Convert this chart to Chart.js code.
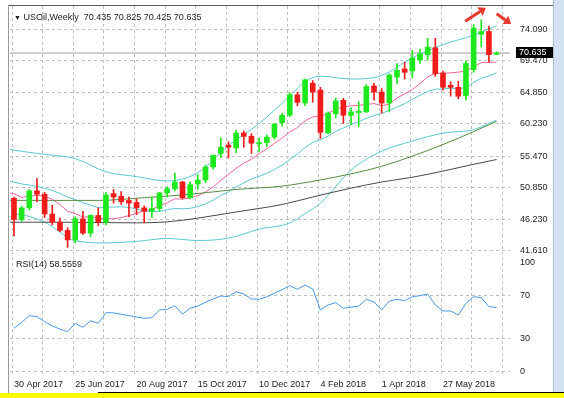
<!DOCTYPE html>
<html>
<head>
<meta charset="utf-8">
<script src="https://cdn.jsdelivr.net/npm/chart.js@4.4.1/dist/chart.umd.min.js"></script>
<style>
  body { margin: 0; background: #fff; }
  #box { position: relative; width: 564px; height: 398px; overflow: hidden; background: #fff; }
  #box canvas { position: absolute; left: 0; }
  #main { top: 0; }
  #rsi { top: 250px; }
  .txt { position: absolute; font: 9px "Liberation Sans", Arial, sans-serif; color: #222; white-space: pre; }
  .ln { position: absolute; }
</style>
</head>
<body>
<div id="box">
  <canvas id="main" width="564" height="260"></canvas>
  <canvas id="rsi" width="564" height="142"></canvas>
  <div class="txt" style="left:14px;top:12px"><span style="font-size:7px">▼</span> USOil,Weekly  70.435 70.825 70.425 70.635</div>
  <div class="txt" style="left:16px;top:259px">RSI(14) 58.5559</div>
  <div class="ln" style="left:8px;top:5px;width:546px;height:1px;background:#5a5a5a"></div>
  <div class="ln" style="left:8px;top:5px;width:1px;height:388px;background:#9a9a9a"></div>
  <div class="ln" style="left:553px;top:0;width:11px;height:392px;background:#d3e2f2"></div>
  <div class="ln" style="left:553px;top:0;width:1px;height:392px;background:#a9bfd6"></div>
  <div class="ln" style="left:98px;top:392px;width:466px;height:1px;background:#000"></div>
  <div class="ln" style="left:0;top:393px;width:564px;height:5px;background:#ffff00"></div>
</div>
<script>
// weekly candles, bar 0 = week of 30 Apr 2017
const open  = [49.3,46.2,47.9,50.4,49.9,47.0,45.8,44.6,43.2,46.3,44.2,46.8,45.8,50.0,49.6,49.0,48.7,47.9,47.4,47.8,
               50.1,50.7,51.7,49.4,51.4,52.0,53.9,55.9,57.1,56.7,58.9,58.4,57.3,57.5,58.3,60.4,61.5,64.5,63.3,66.2,
               65.2,58.9,61.7,63.7,61.5,61.9,62.0,65.8,64.9,63.3,67.1,68.3,68.0,69.6,70.4,71.4,67.7,65.9,65.6,64.4,
               68.2,73.4,73.8,70.435];
const high  = [49.5,48.1,50.6,52.2,50.2,48.3,46.4,45.0,46.6,47.4,46.9,47.9,50.2,50.6,50.3,49.5,49.2,48.2,49.5,50.2,
               51.0,53.0,51.8,51.7,52.8,54.2,55.7,58.2,57.6,59.3,59.2,58.8,58.2,58.6,60.3,61.8,64.8,64.9,66.8,66.6,
               65.6,62.0,64.0,64.0,62.6,63.5,66.0,66.2,65.4,67.6,69.1,69.3,71.0,71.2,72.8,72.8,68.0,66.4,66.5,69.5,
               74.8,75.5,74.6,70.825];
const low   = [43.8,45.9,47.6,48.8,46.5,45.4,44.4,42.1,42.8,44.0,43.7,45.3,45.4,48.6,48.4,46.6,46.9,45.7,46.5,47.4,
               49.5,50.4,49.2,49.2,50.6,51.6,53.6,55.3,55.2,56.0,56.8,55.9,56.1,56.9,58.0,59.9,61.3,62.9,62.9,63.4,
               58.1,58.8,61.1,60.3,60.1,59.8,61.9,63.7,61.8,62.0,66.1,66.8,67.0,69.1,69.6,67.2,65.2,64.3,63.9,63.7,
               67.8,71.5,69.3,70.425];
const close = [46.2,47.9,50.4,49.9,47.0,45.8,44.6,43.2,46.3,44.2,46.8,45.8,49.8,49.5,48.8,48.6,47.9,47.4,47.8,50.1,
               50.7,51.7,49.4,51.3,52.0,53.9,55.6,56.8,56.8,58.9,58.4,57.4,57.5,58.3,60.2,61.5,64.5,63.4,66.7,64.9,
               59.0,61.8,63.6,61.5,62.0,62.1,65.7,64.9,63.3,67.4,68.1,67.8,69.9,70.5,71.5,67.6,65.6,65.6,64.3,69.1,
               74.3,73.8,70.4,70.635];
const lastPrice = 70.635;

// Bollinger middle (20) and pink average (10), one value per bar
const bbMid = [51.68,51.42,51.26,51.05,50.78,50.45,50.02,49.49,49.11,48.65,48.29,47.92,47.98,48.02,48.06,47.96,47.74,47.45,47.36,47.40,
               47.63,47.82,47.77,47.84,48.09,48.49,49.04,49.72,50.25,50.98,51.56,52.14,52.53,52.97,53.54,54.18,55.01,55.81,56.76,57.50,
               57.91,58.42,59.13,59.64,60.14,60.55,61.05,61.46,61.78,62.21,62.69,63.21,63.83,64.44,65.01,65.31,65.37,65.48,65.36,65.57,
               66.33,66.93,67.27,67.73];
const sma10 = [49.97,49.43,49.62,49.73,49.63,49.15,48.39,47.39,47.06,46.55,46.61,46.40,46.34,46.30,46.48,46.76,47.09,47.51,47.66,48.25,
               48.64,49.23,49.19,49.37,49.69,50.22,50.99,51.93,52.83,53.71,54.48,55.05,55.86,56.56,57.38,58.14,59.03,59.69,60.68,61.28,
               61.34,61.78,62.39,62.71,62.89,62.95,63.07,63.22,62.88,63.13,64.04,64.64,65.27,66.17,67.12,67.67,67.66,67.73,67.83,68.00,
               68.62,69.22,69.27,69.28];
const edgeBar = -0.52;
const bbMidEdge = 51.8, sma10Edge = 50.1;

// outer bands, read every few bars
const bandBars = [-0.52, 0, 4, 8, 12, 16, 20, 24, 28, 32, 36, 38, 40, 44, 48, 52, 56, 60, 63];
const bbUpper  = [56.5, 56.38, 55.76, 55.13, 53.2, 52.5, 51.85, 53.07, 57.05, 60.29, 64.33, 66.46, 67.23, 66.82, 67.34, 69.95, 71.87, 73.27, 74.67];
const bbLower  = [46.6, 46.98, 45.8, 43.09, 42.76, 42.98, 43.41, 43.11, 43.45, 44.77, 45.69, 47.06, 48.59, 53.46, 56.22, 57.71, 58.87, 59.39, 60.79];

const sma50Bars  = [-0.52, 5, 11, 17, 23, 29, 35, 40, 44, 48, 52, 56, 60, 63];
const sma50      = [49.0, 49.0, 49.0, 49.4, 49.9, 50.6, 51.1, 52.0, 52.9, 54.0, 55.5, 57.2, 59.1, 60.6];
const sma100Bars = [-0.52, 6, 11, 16, 20, 24, 29, 35, 39, 44, 48, 52, 56, 60, 63];
const sma100     = [45.8, 45.8, 45.75, 45.7, 45.85, 46.4, 47.3, 48.4, 49.5, 50.8, 51.7, 52.4, 53.3, 54.3, 55.0];

const rsi = [39.7,45.0,51.2,50.3,45.7,41.8,39.0,36.6,44.2,40.6,46.6,44.2,54.0,53.8,52.5,51.3,50.0,48.8,49.4,56.4,
             57.0,60.3,52.7,58.0,60.0,63.5,66.5,69.2,68.6,73.1,71.0,66.5,66.2,68.5,71.7,75.0,78.6,75.3,79.2,75.6,
             56.4,61.0,63.1,58.0,59.0,60.0,66.2,63.8,56.4,64.6,66.2,64.9,68.6,69.5,71.0,61.0,55.5,55.5,51.8,62.5,
             68.6,67.7,59.5,58.56];

const priceTicks = [74.09, 69.47, 64.85, 60.23, 55.47, 50.85, 46.23, 41.61];
const rsiTicks   = [0, 30, 70, 100];
const labelBars  = [0, 8, 16, 24, 32, 40, 48, 56];
const tickLabels = ['30 Apr 2017','25 Jun 2017','20 Aug 2017','15 Oct 2017','10 Dec 2017','4 Feb 2018','1 Apr 2018','27 May 2018'];
const gridBars   = [-0.25,3.75,7.75,11.75,15.75,19.75,23.75,27.75,31.75,35.75,39.75,43.75,47.75,51.75,55.75,59.75,63.75];

// red arrows drawn on the chart (bar, price)
const arrowFrom = [[58.9, 75.3], [63.0, 76.4]];
const arrowTo   = [[61.6, 77.3], [64.9, 74.9]];

const X_MIN = -0.52, X_MAX = 64.75;
const UP = '#1ee81e', DOWN = '#f01c1c';
const CYAN = '#5cc8d2', PINK = '#f0649c', GREEN = '#5a8c45', DARK = '#4a4a4a', GRID = '#bfbfbf';

Chart.defaults.font.family = '"Liberation Sans", Arial, sans-serif';
Chart.defaults.font.size = 9;
Chart.defaults.color = '#222';
Chart.defaults.animation = false;

const bars = close.map((_, i) => i);
const pts = (xs, ys) => xs.map((x, i) => ({x: x, y: ys[i]}));
const candleColor = ctx => close[ctx.dataIndex] >= open[ctx.dataIndex] ? UP : DOWN;

function line(data, color, extra) {
    return Object.assign({
        type: 'line', data: data, borderColor: color, borderWidth: 1,
        pointRadius: 0, fill: false, order: 5
    }, extra || {});
}

// right-hand value axis: labels 10px right of the plot, no tick marks shown
function valueAxis(min, max, values, fmt, gridColor) {
    return {
        position: 'right', min: min, max: max,
        afterBuildTicks: s => { s.ticks = values.map(v => ({value: v})); },
        afterFit: s => { s.width = 54; },
        ticks: {callback: fmt, padding: 0},
        grid: {color: gridColor, drawTicks: true, tickLength: 10, tickColor: 'rgba(0,0,0,0)'},
        border: {display: false, dash: [3, 3]}
    };
}

const priceTag = {
    id: 'priceTag',
    afterDraw(chart) {
        const ctx = chart.ctx;
        const y = chart.scales.y;
        const py = Math.round(y.getPixelForValue(lastPrice));
        ctx.save();
        ctx.fillStyle = '#000';
        ctx.fillRect(y.left + 6, py - 6, 37, 11);
        ctx.fillStyle = '#fff';
        ctx.font = '9px "Liberation Sans", Arial, sans-serif';
        ctx.textBaseline = 'middle';
        ctx.fillText(lastPrice.toFixed(3), y.left + 9, py);
        ctx.restore();
    }
};

const arrows = {
    id: 'arrows',
    afterDraw(chart) {
        const ctx = chart.ctx;
        const sx = chart.scales.x, sy = chart.scales.y;
        ctx.save();
        ctx.strokeStyle = '#e8392f';
        ctx.fillStyle = '#e8392f';
        ctx.lineWidth = 3;
        arrowFrom.forEach(function (from, k) {
            const x0 = sx.getPixelForValue(from[0]), y0 = sy.getPixelForValue(from[1]);
            const x1 = sx.getPixelForValue(arrowTo[k][0]), y1 = sy.getPixelForValue(arrowTo[k][1]);
            const a = Math.atan2(y1 - y0, x1 - x0);
            const hx = x1 - 7 * Math.cos(a), hy = y1 - 7 * Math.sin(a);
            ctx.beginPath();
            ctx.moveTo(x0, y0);
            ctx.lineTo(hx, hy);
            ctx.stroke();
            ctx.beginPath();
            ctx.moveTo(x1, y1);
            ctx.lineTo(hx + 5 * Math.sin(a), hy - 5 * Math.cos(a));
            ctx.lineTo(hx - 5 * Math.sin(a), hy + 5 * Math.cos(a));
            ctx.closePath();
            ctx.fill();
        });
        ctx.restore();
    }
};

new Chart(document.getElementById('main'), {
    type: 'bar',
    data: {
        datasets: [
            line([{x: X_MIN, y: lastPrice}, {x: X_MAX, y: lastPrice}], '#9c9c9c', {order: 6}),
            line(pts(sma100Bars, sma100), DARK, {cubicInterpolationMode: 'monotone'}),
            line(pts(sma50Bars, sma50), GREEN, {cubicInterpolationMode: 'monotone'}),
            line(pts(bandBars, bbUpper), CYAN, {cubicInterpolationMode: 'monotone'}),
            line(pts(bandBars, bbLower), CYAN, {cubicInterpolationMode: 'monotone'}),
            line([{x: edgeBar, y: bbMidEdge}].concat(pts(bars, bbMid)), CYAN),
            line([{x: edgeBar, y: sma10Edge}].concat(pts(bars, sma10)), PINK),
            {
                data: bars.map(i => ({x: i, y: [low[i], high[i]]})),
                backgroundColor: candleColor, barThickness: 1, grouped: false, order: 2
            },
            {
                data: bars.map(i => ({x: i, y: [open[i], close[i]]})),
                backgroundColor: candleColor, barThickness: 5, grouped: false, minBarLength: 1, order: 1
            }
        ]
    },
    options: {
        responsive: false,
        devicePixelRatio: 1,
        events: [],
        layout: {padding: {left: 10, right: 0, top: 6, bottom: 6}},
        plugins: {legend: {display: false}, tooltip: {enabled: false}},
        scales: {
            x: {
                type: 'linear', min: X_MIN, max: X_MAX, offset: false,
                afterBuildTicks: s => { s.ticks = gridBars.map(v => ({value: v})); },
                afterFit: s => { s.height = 0; },
                ticks: {display: false},
                grid: {color: GRID, drawTicks: false, offset: false},
                border: {display: false, dash: [3, 3]}
            },
            y: valueAxis(41.13, 77.54, priceTicks, v => v.toFixed(3), GRID)
        }
    },
    plugins: [priceTag, arrows]
});

new Chart(document.getElementById('rsi'), {
    type: 'line',
    data: {
        datasets: [
            line(pts(bars, rsi), '#4a98e8')
        ]
    },
    options: {
        responsive: false,
        devicePixelRatio: 1,
        events: [],
        layout: {padding: {left: 10, right: 0, top: 7, bottom: 0}},
        plugins: {legend: {display: false}, tooltip: {enabled: false}},
        scales: {
            x: {
                type: 'linear', position: 'bottom', min: X_MIN, max: X_MAX,
                afterBuildTicks: s => { s.ticks = labelBars.map(v => ({value: v})); },
                afterFit: s => { s.height = 16; },
                ticks: {
                    callback: v => tickLabels[labelBars.indexOf(v)],
                    align: 'start', padding: 3, maxRotation: 0, autoSkip: false
                },
                grid: {display: false, drawTicks: false},
                border: {display: false}
            },
            xg: {
                type: 'linear', position: 'bottom', min: X_MIN, max: X_MAX,
                afterBuildTicks: s => { s.ticks = gridBars.map(v => ({value: v})); },
                afterFit: s => { s.height = 0; },
                ticks: {display: false},
                grid: {color: GRID, drawTicks: false},
                border: {display: false, dash: [3, 3]}
            },
            y: valueAxis(-3.93, 104.84, rsiTicks, v => String(v),
                         c => c.tick && c.tick.value === 100 ? 'rgba(0,0,0,0)' : GRID)
        }
    }
});
</script>
</body>
</html>
